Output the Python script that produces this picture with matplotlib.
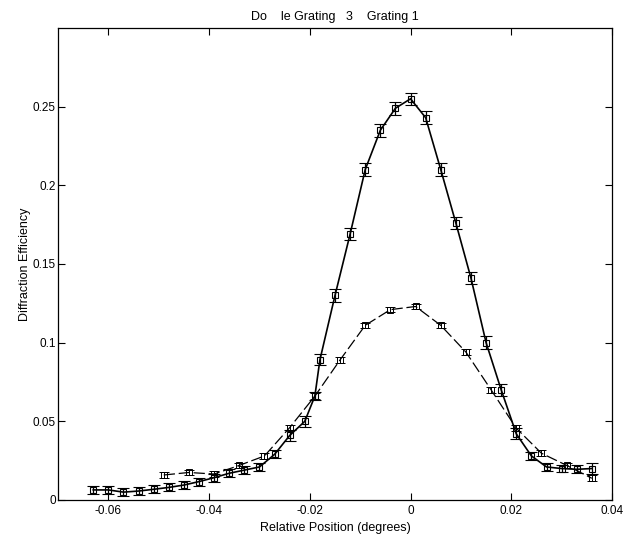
import numpy as np
import matplotlib
matplotlib.use("Agg")
import matplotlib.pyplot as plt

# Grating 3 (solid curve)
x_g3 = [-0.063, -0.060, -0.057, -0.054, -0.051, -0.048, -0.045, -0.042, -0.039,
        -0.036, -0.033, -0.030, -0.027, -0.024, -0.021, -0.019, -0.018, -0.015,
        -0.012, -0.009, -0.006, -0.003, 0.000, 0.003, 0.006, 0.009, 0.012,
        0.015, 0.018, 0.021, 0.024, 0.027, 0.030, 0.033, 0.036]
y_g3 = [0.0064, 0.0064, 0.0050, 0.0057, 0.0068, 0.0080, 0.0095, 0.0117, 0.0142,
        0.0170, 0.0190, 0.0210, 0.0290, 0.0410, 0.0500, 0.0660, 0.0890, 0.1300,
        0.1690, 0.2100, 0.2350, 0.2490, 0.2550, 0.2430, 0.2100, 0.1760, 0.1410,
        0.1000, 0.0700, 0.0420, 0.0280, 0.0210, 0.0200, 0.0195, 0.0200]
err_g3 = [0.0028, 0.0028, 0.0025, 0.0025, 0.0025, 0.0025, 0.0025, 0.0025, 0.0025,
          0.0025, 0.0025, 0.0025, 0.0025, 0.0035, 0.0035, 0.0025, 0.0035, 0.004,
          0.004, 0.004, 0.004, 0.004, 0.004, 0.004, 0.004, 0.004, 0.004,
          0.004, 0.004, 0.0035, 0.0025, 0.0025, 0.0025, 0.0025, 0.0035]

# Grating 1 (dashed curve)
x_g1 = [-0.049, -0.044, -0.039, -0.034, -0.029, -0.024, -0.019, -0.014, -0.009,
        -0.004, 0.001, 0.006, 0.011, 0.016, 0.021, 0.026, 0.031, 0.036]
y_g1 = [0.0159, 0.0175, 0.0165, 0.0220, 0.0280, 0.0460, 0.0660, 0.0890, 0.1110,
        0.1210, 0.1230, 0.1110, 0.0940, 0.0700, 0.0456, 0.0297, 0.0220, 0.0138]
err_g1 = [0.0018] * len(x_g1)

plt.rcParams['font.family'] = ['Liberation Sans', 'DejaVu Sans']
plt.rcParams['font.size'] = 8.5

fig = plt.figure(figsize=(6.29, 5.39), dpi=100)
ax = fig.add_axes([58 / 629, 1 - 500 / 539, 554 / 629, 472 / 539])

ax.errorbar(x_g3, y_g3, yerr=err_g3, color='black', linewidth=1.2,
            marker='s', markersize=5, markerfacecolor='none', markeredgewidth=0.8,
            elinewidth=0.9, capsize=4, capthick=0.9)
ax.errorbar(x_g1, y_g1, yerr=err_g1, color='black', linewidth=0.9,
            linestyle=(0, (9, 3)), marker='s', markersize=4.5,
            markerfacecolor='none', markeredgewidth=0.7,
            elinewidth=0.7, capsize=3.5, capthick=0.7)

ax.set_xlim(-0.07, 0.04)
ax.set_ylim(0, 0.3)
ax.set_xticks([-0.06, -0.04, -0.02, 0, 0.02, 0.04])
ax.set_xticklabels(['-0.06', '-0.04', '-0.02', '0', '0.02', '0.04'])
ax.set_yticks([0, 0.05, 0.1, 0.15, 0.2, 0.25])
ax.set_yticklabels(['0', '0.05', '0.1', '0.15', '0.2', '0.25'])
ax.tick_params(direction='in', top=True, right=True, length=5, width=0.8)
ax.tick_params(axis='y', pad=1.5)
for s in ax.spines.values():
    s.set_linewidth(0.9)

ax.set_title("Do    le Grating   3    Grating 1", fontsize=9, pad=6)
ax.set_xlabel("Relative Position (degrees)", fontsize=9, labelpad=4)
ax.set_ylabel("Diffraction Efficiency", fontsize=9, labelpad=1)

fig.savefig("out.png", dpi=100)
